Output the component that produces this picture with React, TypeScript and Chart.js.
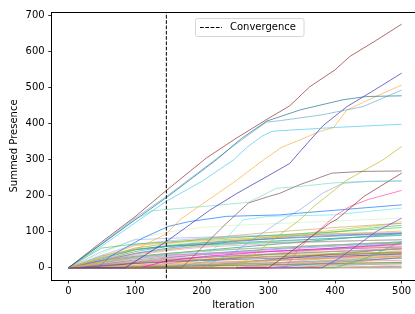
import React, { useEffect, useRef } from 'react';
import { Chart, registerables } from 'chart.js';

Chart.register(...registerables);

const X_TICKS = [0, 100, 200, 300, 400, 500];
const Y_TICKS = [0, 100, 200, 300, 400, 500, 600, 700];
const CONVERGENCE_ITER = 147;
const X_RANGE = [-25, 520];
const Y_RANGE = [-33.85, 710.85];
const ITER_GRID = [0, 50, 100, 150, 200, 250, 300, 350, 400, 450, 500];

// prominent lines: [iteration, summed presence] knots
const brownMain = [[0,0],[50,72],[100,142],[147,215],[207,305],[250,358],[272,383],[300,415],[332,450],[362,503],[400,550],[422,587],[460,630],[500,677]];
const tealLine = [[0,0],[50,66],[100,133],[147,195],[222,300],[260,360],[298,408],[348,439],[412,467],[447,476],[500,478]];
const lightBlueLine = [[0,0],[50,68],[100,138],[147,198],[200,272],[250,342],[297,405],[318,409],[380,425],[442,448],[470,470],[500,494]];
const skyLine = [[0,0],[50,60],[100,125],[147,185],[200,240],[248,300],[268,335],[290,365],[305,379],[318,381],[400,390],[500,399]];
const slateLine = [[0,0],[85,0],[147,73],[212,160],[253,207],[300,256],[332,290],[345,318],[382,395],[418,448],[460,495],[500,541]];
const orangeLine = [[0,0],[50,15],[100,50],[147,95],[167,133],[197,172],[250,240],[293,300],[320,335],[348,356],[377,379],[398,390],[418,439],[460,475],[500,508]];
const aquaLine = [[0,0],[50,65],[100,135],[125,158],[147,162],[212,172],[270,182],[290,200],[312,221],[347,226],[398,236],[440,240],[500,242]];
const mauveLine = [[0,0],[170,0],[197,50],[235,120],[270,180],[300,198],[317,207],[347,231],[367,244],[395,263],[442,268],[500,269]];
const oliveLine = [[0,0],[250,0],[268,22],[317,92],[347,133],[368,170],[418,244],[472,300],[500,337]];
const brownLate = [[0,0],[300,0],[317,22],[347,63],[392,124],[403,135],[443,198],[500,263]];
const pinkLate = [[0,0],[325,0],[347,55],[362,82],[402,147],[422,170],[450,190],[500,215]];
const blueLine = [[0,0],[45,0],[62,31],[112,83],[150,115],[180,128],[237,143],[317,147],[347,152],[400,160],[500,175]];
const cyanLine = [[0,0],[180,0],[210,40],[235,78],[262,133],[300,143],[397,147],[500,166]];
const steelLine = [[0,0],[200,0],[250,45],[290,95],[317,129],[347,161],[382,208],[412,235],[450,240],[500,241]];
const purpleLate = [[0,0],[380,0],[407,27],[462,101],[500,138]];
const greenLate = [[0,0],[400,0],[447,27],[500,73]];
const magentaLine = [[0,0],[107,0],[150,20],[212,33],[250,38],[300,45],[350,50],[400,55],[450,60],[500,66]];

const majorSeries = [brownMain, tealLine, lightBlueLine, skyLine, slateLine, orangeLine, aquaLine, mauveLine, oliveLine, brownLate, pinkLate, blueLine, cyanLine, steelLine, purpleLate, greenLate, magentaLine];
const majorColors = [
  'rgba(150,50,50,0.8)', 'rgba(40,120,150,0.8)', 'rgba(100,170,210,0.75)', 'rgba(70,200,240,0.75)',
  'rgba(60,50,180,0.8)', 'rgba(255,170,50,0.75)', 'rgba(100,215,190,0.65)', 'rgba(130,85,95,0.8)',
  'rgba(190,190,30,0.8)', 'rgba(140,50,50,0.8)', 'rgba(255,80,180,0.8)', 'rgba(30,120,255,0.8)',
  'rgba(80,230,230,0.65)', 'rgba(120,160,220,0.65)', 'rgba(150,50,230,0.8)', 'rgba(60,200,60,0.7)',
  'rgba(255,0,230,0.8)'
];

// lower bundle, values on ITER_GRID — lines present from the first iteration
const bundleEarly = [
  [0,55,66,72,78,84,90,95,100,106,112],
  [0,30,62,70,75,80,85,90,95,98,102],
  [0,25,55,68,80,90,98,105,112,118,124],
  [0,45,78,82,85,88,90,92,94,96,98],
  [0,20,40,55,65,73,80,86,90,94,97],
  [0,20,35,48,57,62,66,70,73,76,78],
  [0,22,45,60,65,70,74,78,82,86,90],
  [0,15,30,40,47,52,56,60,64,67,70],
  [0,12,25,32,38,42,46,50,54,57,60],
  [0,8,15,22,28,33,37,41,45,48,51],
  [0,10,22,30,36,41,45,49,52,55,58],
  [0,30,55,65,72,78,84,90,98,110,129],
  [0,20,40,52,60,66,72,77,82,87,92],
  [0,15,28,38,45,51,56,60,64,68,72],
  [0,5,12,18,22,26,30,33,36,39,42],
  [0,6,12,16,20,23,26,29,32,35,38],
  [0,18,38,50,62,75,85,95,105,115,124],
  [0,28,50,60,68,75,82,90,100,110,118],
  [0,4,8,12,15,18,21,24,27,30,33],
  [0,3,7,10,13,16,19,22,25,28,31],
  [0,25,50,62,70,76,80,84,88,92,95],
  [0,35,65,75,82,86,88,90,92,94,96],
  [0,2,5,7,9,11,13,15,17,19,21],
  [0,9,18,25,31,36,40,44,47,50,53],
  [0,40,80,100,112,118,122,126,130,134,138],
  [0,12,20,26,30,33,36,38,40,42,44],
  [0,7,14,20,24,28,32,35,38,41,44],
  [0,18,30,36,40,43,46,49,52,55,58],
  [0,1,3,4,6,7,9,10,12,13,15],
  [0,4,6,8,9,10,11,12,13,14,15],
  [0,33,52,60,64,67,70,72,74,76,78],
  [0,10,18,24,29,34,38,42,46,50,54],
  [0,2,3,4,5,6,7,8,9,10,11],
  [0,14,26,34,40,45,50,55,60,65,70],
  [0,20,32,40,48,56,64,72,80,88,95]
];
const bundleEarlyColors = [
  '#2ecc40','#ff9f1c','#c8a060','#8fb4e8','#5a6acd','#f08cb4','#2aa198','#b5b52a','#f4a582','#8c8c8c',
  '#9370db','#b0f0a0','#66cdaa','#40d0e0','#a0522d','#3050a0','#e0b020','#3cb371','#ff7f50','#d8c878',
  '#4682b4','#b0a0f0','#bc8f8f','#ffb6c1','#d0f0c0','#7fd030','#cd853f','#da70d6','#6b8e23','#d2b48c',
  '#3cb060','#cd5c5c','#a9a9a9','#6495ed','#008b8b'
];

// lower bundle, lines that start growing later
const bundleLate = [
  [0,0,15,28,37,45,52,58,63,68,72],
  [0,0,0,12,22,30,38,45,52,58,64],
  [0,0,0,0,15,28,38,47,55,62,68],
  [0,0,0,0,0,12,22,32,40,47,54],
  [0,0,0,0,0,0,10,20,28,35,41],
  [0,0,0,0,0,0,0,8,15,22,28],
  [0,0,0,0,0,0,0,0,10,20,30],
  [0,0,0,0,3,10,18,25,33,40,48],
  [0,0,0,5,10,15,20,25,30,35,40],
  [0,0,2,5,8,11,14,17,20,23,26],
  [0,0,0,0,0,0,5,12,19,26,33],
  [0,0,4,8,12,16,20,24,28,32,36],
  [0,0,0,2,4,6,8,10,12,14,16],
  [0,0,0,0,0,2,4,6,8,10,12],
  [0,0,0,0,0,0,0,3,6,9,12],
  [0,0,0,0,0,0,0,0,0,4,8],
  [0,0,0,3,6,9,13,17,22,27,32],
  [0,0,0,0,6,14,22,30,38,46,54],
  [0,0,0,0,0,0,0,0,0,0,0],
  [0,0,0,0,0,0,0,1,2,3,4]
];
const bundleLateColors = [
  '#8a60d0','#f0a040','#20b2aa','#50c050','#ff77aa','#4169e1','#ff8c00','#bdb76b','#c090e0','#999999',
  '#fa8072','#9acd32','#e9967a','#87ceeb','#bc8f8f','#deb887','#48d1cc','#c71585','#8b4513','#708090'
];

const FONT = 'DejaVu Sans';

const decorPlugin = {
  id: 'decor',
  afterDraw(chart: any) {
    const { ctx, chartArea } = chart;
    ctx.save();
    // top spine
    ctx.strokeStyle = '#000';
    ctx.lineWidth = 1;
    ctx.beginPath();
    ctx.moveTo(chartArea.left, chartArea.top + 0.5);
    ctx.lineTo(chartArea.right, chartArea.top + 0.5);
    ctx.stroke();
    // legend box
    const bx = 195.5, by = 18.5, bw = 108.5, bh = 18, r = 2;
    ctx.beginPath();
    ctx.moveTo(bx + r, by);
    ctx.lineTo(bx + bw - r, by);
    ctx.quadraticCurveTo(bx + bw, by, bx + bw, by + r);
    ctx.lineTo(bx + bw, by + bh - r);
    ctx.quadraticCurveTo(bx + bw, by + bh, bx + bw - r, by + bh);
    ctx.lineTo(bx + r, by + bh);
    ctx.quadraticCurveTo(bx, by + bh, bx, by + bh - r);
    ctx.lineTo(bx, by + r);
    ctx.quadraticCurveTo(bx, by, bx + r, by);
    ctx.closePath();
    ctx.fillStyle = 'rgba(255,255,255,0.8)';
    ctx.fill();
    ctx.strokeStyle = '#d6d6d6';
    ctx.stroke();
    // handle
    ctx.setLineDash([3.7, 1.6]);
    ctx.strokeStyle = '#000';
    ctx.beginPath();
    ctx.moveTo(200, 27.5);
    ctx.lineTo(222, 27.5);
    ctx.stroke();
    ctx.setLineDash([]);
    ctx.fillStyle = '#000';
    ctx.font = `10px "${FONT}"`;
    ctx.textBaseline = 'middle';
    ctx.textAlign = 'left';
    ctx.fillText('Convergence', 230, 27);
    ctx.restore();
  }
};

export default function App() {
  const ref = useRef<HTMLCanvasElement>(null);
  useEffect(() => {
    if (!ref.current) return;
    const datasets: any[] = [];
    datasets.push({
      label: 'Convergence',
      data: [{ x: CONVERGENCE_ITER, y: Y_RANGE[0] - 10 }, { x: CONVERGENCE_ITER, y: Y_RANGE[1] + 10 }],
      borderColor: '#000',
      borderWidth: 1,
      borderDash: [3.7, 1.6],
      pointRadius: 0,
    });
    majorSeries.forEach((s, i) => {
      datasets.push({
        data: s.map(([x, y]) => ({ x, y })),
        borderColor: majorColors[i],
        borderWidth: 0.9,
        pointRadius: 0,
      });
    });
    const addGrid = (rows: number[][], colors: string[]) => {
      rows.forEach((row, i) => {
        datasets.push({
          data: row.map((y, j) => ({ x: ITER_GRID[j], y })),
          borderColor: colors[i] + 'b0',
          borderWidth: 0.9,
          pointRadius: 0,
        });
      });
    };
    addGrid(bundleEarly, bundleEarlyColors);
    addGrid(bundleLate, bundleLateColors);

    const chart = new Chart(ref.current, {
      type: 'line',
      data: { datasets },
      options: {
        responsive: false,
        animation: false,
        events: [],
        layout: { padding: { top: 12, right: 0, bottom: 0, left: 0 } },
        plugins: { legend: { display: false }, tooltip: { enabled: false } },
        elements: { line: { tension: 0 } },
        scales: {
          x: {
            type: 'linear',
            min: X_RANGE[0],
            max: X_RANGE[1],
            afterBuildTicks: (s: any) => { s.ticks = X_TICKS.map((v) => ({ value: v })); },
            afterFit: (s: any) => { s.height = 34; },
            ticks: { color: '#000', font: { family: FONT, size: 10 }, padding: 2, maxRotation: 0 },
            grid: { drawOnChartArea: false, drawTicks: true, tickLength: 3.5, color: '#000', lineWidth: 0.8 },
            border: { display: true, color: '#000', width: 1 },
            title: { display: true, text: 'Iteration', color: '#000', font: { family: FONT, size: 10 }, padding: 3 },
          },
          y: {
            type: 'linear',
            min: Y_RANGE[0],
            max: Y_RANGE[1],
            afterBuildTicks: (s: any) => { s.ticks = Y_TICKS.map((v) => ({ value: v })); },
            afterFit: (s: any) => { s.width = 51.7; },
            ticks: { color: '#000', font: { family: FONT, size: 10 }, padding: 3.5 },
            grid: { drawOnChartArea: false, drawTicks: true, tickLength: 3.5, color: '#000', lineWidth: 0.8 },
            border: { display: true, color: '#000', width: 1 },
            title: { display: true, text: 'Summed Presence', color: '#000', font: { family: FONT, size: 10 }, padding: 8 },
          },
        },
      },
      plugins: [decorPlugin],
    });
    return () => chart.destroy();
  }, []);
  return (
    <div style={{ position: 'fixed', left: 0, top: 0, width: 415, height: 314, background: '#fff' }}>
      <canvas ref={ref} width={415} height={314} style={{ width: 415, height: 314, display: 'block' }} />
    </div>
  );
}
